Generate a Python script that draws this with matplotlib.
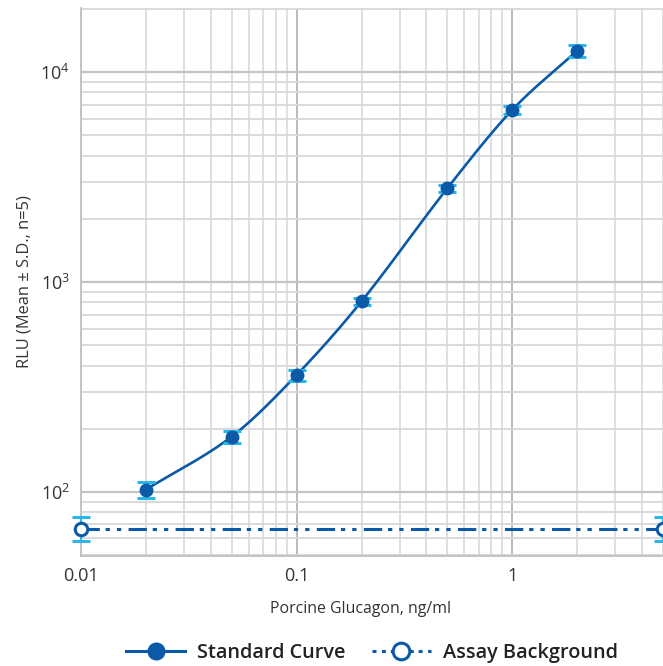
import numpy as np
import matplotlib
matplotlib.use("Agg")
import matplotlib.pyplot as plt
from matplotlib.ticker import LogLocator, FixedLocator, NullFormatter, FixedFormatter
from matplotlib.lines import Line2D

plt.rcParams['font.family'] = ['Open Sans', 'DejaVu Sans']
plt.rcParams['mathtext.fontset'] = 'custom'
plt.rcParams['mathtext.rm'] = 'Open Sans'
plt.rcParams['mathtext.it'] = 'Open Sans'

# ---- data ----
conc = [0.02, 0.05, 0.1, 0.2, 0.5, 1.0, 2.0]
rlu_mean = [102.6, 183.5, 360.6, 809, 2797, 6607, 12630]
rlu_sd = [9, 12, 22, 30, 105, 270, 880]
bg_x = [0.01, 5.0]
bg_mean = [66.9, 66.9]
bg_sd = [8.7, 8.7]
x_ticks = [0.01, 0.1, 1]
x_ticklabels = ["0.01", "0.1", "1"]

DARK = '#0a5aa8'
CYAN = '#2bb6e8'

fig = plt.figure(figsize=(6.63, 6.66), dpi=100)
ax = fig.add_axes([81/663, 110/666, 582/663, 548/666])
ax.set_xscale('log')
ax.set_yscale('log')
ax.set_xlim(0.01, 5.0)
ax.set_ylim(49.5, 20200)

# grid
ax.xaxis.set_major_locator(FixedLocator(x_ticks))
ax.xaxis.set_major_formatter(FixedFormatter(x_ticklabels))
ax.xaxis.set_minor_locator(LogLocator(base=10, subs=np.arange(2, 10)))
ax.xaxis.set_minor_formatter(NullFormatter())
ax.yaxis.set_major_locator(LogLocator(base=10, numticks=10))
ax.yaxis.set_minor_locator(LogLocator(base=10, subs=np.arange(2, 10), numticks=10))
ax.yaxis.set_minor_formatter(NullFormatter())
ax.grid(True, which='major', axis='x', color='#b4b4b4', linewidth=1.3, zorder=0)
ax.grid(True, which='minor', axis='x', color='#dcdcdc', linewidth=1.3, zorder=0)
ax.grid(True, which='major', axis='y', color='#c4c4c4', linewidth=1.6, zorder=0)
ax.grid(True, which='minor', axis='y', color='#d8d8d8', linewidth=1.3, zorder=0)
ax.set_axisbelow(True)
ax.tick_params(which='both', length=0, labelsize=13, colors='#333333', pad=8)
for s in ['top', 'right']:
    ax.spines[s].set_visible(False)
for s in ['left', 'bottom']:
    ax.spines[s].set_color('#c0c0c0')
    ax.spines[s].set_linewidth(1.3)

# smooth curve through points (cubic Hermite in log-log space)
lx = np.log10(conc)
ly = np.log10(rlu_mean)
n = len(lx)
m = np.zeros(n)
for i in range(n):
    if i == 0:
        m[i] = (ly[1] - ly[0]) / (lx[1] - lx[0])
    elif i == n - 1:
        m[i] = (ly[-1] - ly[-2]) / (lx[-1] - lx[-2])
    else:
        m[i] = (ly[i + 1] - ly[i - 1]) / (lx[i + 1] - lx[i - 1])
cx, cy = [], []
for i in range(n - 1):
    h = lx[i + 1] - lx[i]
    t = np.linspace(0, 1, 40)
    h00 = 2*t**3 - 3*t**2 + 1
    h10 = t**3 - 2*t**2 + t
    h01 = -2*t**3 + 3*t**2
    h11 = t**3 - t**2
    cx.extend(lx[i] + t*h)
    cy.extend(h00*ly[i] + h10*h*m[i] + h01*ly[i+1] + h11*h*m[i+1])
ax.plot(10**np.array(cx), 10**np.array(cy), color=DARK, lw=1.9, zorder=3)

# error bars
ax.errorbar(conc, rlu_mean, yerr=rlu_sd, fmt='none', ecolor=CYAN, elinewidth=1.5,
            capsize=6.2, capthick=2.2, zorder=4)
ax.errorbar(bg_x, bg_mean, yerr=bg_sd, fmt='none', ecolor=CYAN, elinewidth=1.5,
            capsize=6.2, capthick=2.2, zorder=4)
for c in ax.containers:
    for art in c.get_children():
        art.set_clip_on(False)

ax.plot(conc, rlu_mean, 'o', color=DARK, ms=9, zorder=5)
bg_ls = (0, (6, 1.9, 1.4, 2.3, 1.4, 2.4))
ax.plot(bg_x, bg_mean, color=DARK, lw=2.2, ls=bg_ls, marker='o', ms=9,
        mfc='white', mec=DARK, mew=2.2, zorder=5, clip_on=False)

ax.set_xlabel("Porcine Glucagon, ng/ml", fontsize=11.4, color='#333333')
ax.xaxis.set_label_coords(0.481, -0.083)
ax.set_ylabel("RLU (Mean ± S.D., n=5)", fontsize=11.8, color='#333333')
ax.yaxis.set_label_coords(-0.083, 0.5)

# legend
h1 = Line2D([], [], color=DARK, lw=2.2, marker='o', ms=12)
h2 = Line2D([], [], color=DARK, lw=2.2, ls=(0, (1.3, 1.8, 1.3, 1.6, 7.5, 1.6, 1.3, 1.8, 1.3, 2.0)),
            marker='o', ms=12, mfc='white', mec=DARK, mew=2.2)
leg = fig.legend([h1, h2], ["Standard Curve", "Assay Background"], loc='center',
                 bbox_to_anchor=(372/663, 1 - 653/666), ncol=2, frameon=False,
                 prop={'size': 14.3, 'weight': 'semibold'}, handlelength=3.0,
                 handletextpad=0.6, columnspacing=1.3)
for t in leg.get_texts():
    t.set_color('#222222')

fig.savefig("out.png", dpi=100)
